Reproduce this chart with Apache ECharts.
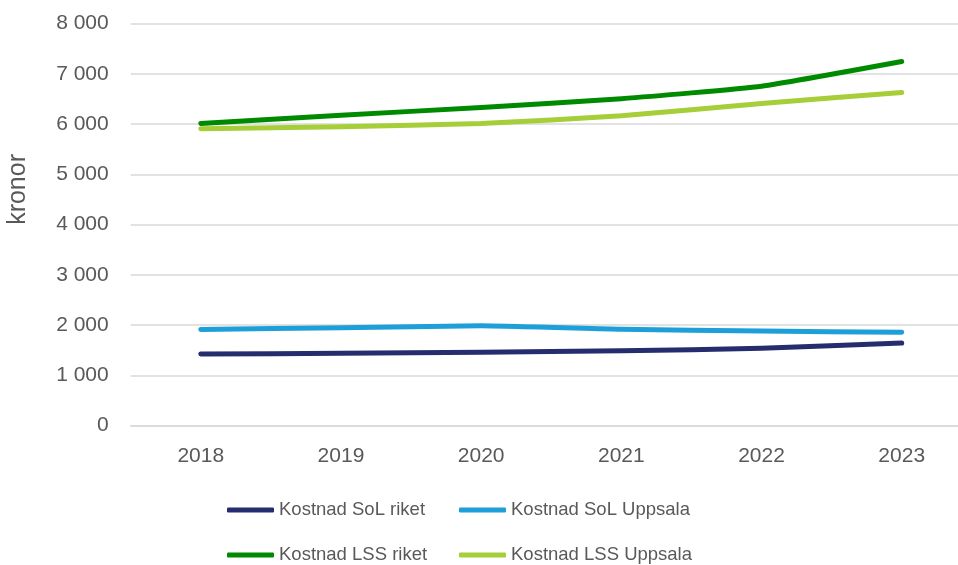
<!DOCTYPE html>
<html>
<head>
<meta charset="utf-8">
<script src="https://cdn.jsdelivr.net/npm/echarts@6/dist/echarts.min.js"></script>
<style>html,body{margin:0;padding:0;background:#fff;overflow:hidden;width:958px;height:565px}#c{width:972px;height:565px}</style>
</head>
<body>
<div id="c"></div>
<script>
const years = ['2018','2019','2020','2021','2022','2023'];
const solRiket = [1425, 1440, 1460, 1490, 1540, 1645];
const solUppsala = [1915, 1948, 1988, 1918, 1883, 1857];
const lssRiket = [6012, 6175, 6330, 6505, 6753, 7244];
const lssUppsala = [5905, 5945, 6012, 6163, 6410, 6628];
const seriesNames = ['Kostnad SoL riket','Kostnad SoL Uppsala','Kostnad LSS riket','Kostnad LSS Uppsala'];
const colors = ['#252D6E','#1E9FDA','#008A00','#A6CE39'];
const yTicks = [0,1000,2000,3000,4000,5000,6000,7000,8000];

const font = 'Liberation Sans';
const txt = '#595959';
function fmt(v){ return String(v).replace(/\B(?=(\d{3})+(?!\d))/g, ' '); }

const chart = echarts.init(document.getElementById('c'));
const dataArr = [solRiket, solUppsala, lssRiket, lssUppsala];
const legendPos = [[227,499],[459,499],[227,544],[459,544]];
chart.setOption({
  animation:false,
  backgroundColor:'#fff',
  grid:{left:130.7, width:841.1, top:23.5, height:402.2, containLabel:false},
  xAxis:{type:'category', data:years, boundaryGap:true,
    axisLine:{show:true, lineStyle:{color:'#d9d9d9', width:1.5}},
    axisTick:{show:false},
    axisLabel:{color:txt, fontFamily:font, fontSize:21, margin:20}},
  yAxis:{type:'value', min:yTicks[0], max:yTicks[yTicks.length-1], interval:1000,
    axisLine:{show:false}, axisTick:{show:false},
    splitLine:{lineStyle:{color:'#d9d9d9', width:1.5}},
    axisLabel:{color:txt, fontFamily:font, fontSize:21, margin:22, formatter:fmt}},
  legend: seriesNames.map((n,i)=>({
    data:[n], left:legendPos[i][0], top:legendPos[i][1], itemWidth:47, itemHeight:5, itemGap:0,
    icon:'roundRect',
    textStyle:{color:txt, fontFamily:font, fontSize:18.5, lineHeight:22}, padding:0
  })),
  graphic:[{type:'text', left:6, top:154, rotation:Math.PI/2,
    style:{text:'kronor', fill:txt, font:'25px "Liberation Sans"'}}],
  series: seriesNames.map((n,i)=>({
    name:n, type:'line', data:dataArr[i], symbol:'none', smooth:0.15,
    color:colors[i],
    lineStyle:{width:5, color:colors[i], cap:'round', join:'round'}
  }))
});
</script>
</body>
</html>
